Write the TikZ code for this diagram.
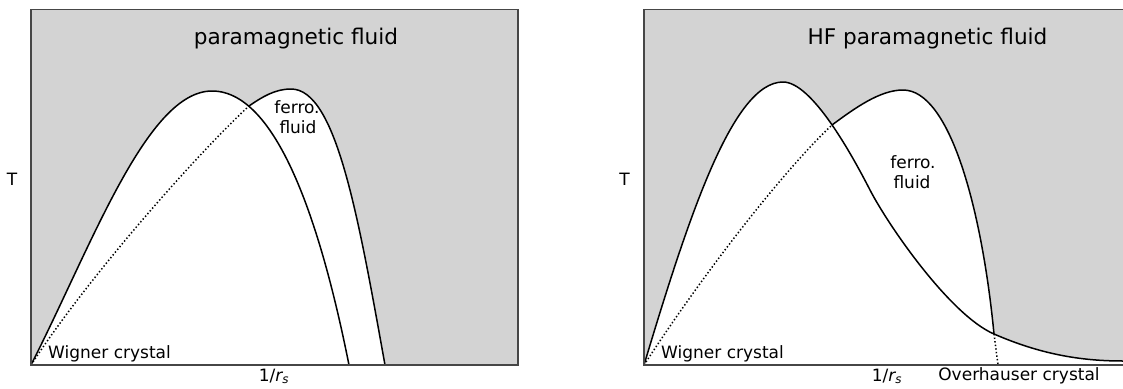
\documentclass[tikz,border=0pt]{standalone}
\usepackage{fontspec}
\setmainfont{DejaVu Sans}
\definecolor{panelgray}{RGB}{211,211,211}
\definecolor{framegray}{RGB}{70,70,70}
\tikzset{
  panelbg/.style={fill=panelgray},
  frameline/.style={draw=framegray,line width=1.2pt},
  curveline/.style={draw=black,line width=1.5pt,line join=round},
  dotline/.style={draw=black,line width=1.5pt,dash pattern=on 1.4pt off 2.2pt},
  titletext/.style={font=\fontsize{21.6}{26}\selectfont,inner sep=0pt},
  labeltext/.style={font=\fontsize{17}{20}\selectfont,inner sep=0pt},
}
\newcommand{\invrs}{1/{\itshape r}\textsubscript{\itshape s}}
\begin{document}
\begin{tikzpicture}[x=1pt,y=-1pt]
\useasboundingbox (0,0) rectangle (1123,388);
% ---------------- left panel ----------------
\coordinate (oL) at (31,365);
\coordinate (pkAL) at (212,91);
\coordinate (endAL) at (349,365);
\coordinate (xL) at (249,106);
\coordinate (pkBL) at (291,89);
\coordinate (endBL) at (385,365);
\fill[panelbg] (31,9.3) rectangle (518,365);
\fill[white] (oL) .. controls (92,245) and (147,91) .. (pkAL) .. controls (282,91) and (325,245) .. (endAL) -- cycle;
\fill[white] (oL) .. controls (89.5,275) and (199,152) .. (xL) .. controls (262,97) and (275,89) .. (pkBL) .. controls (336,89) and (358,215) .. (endBL) -- cycle;
\draw[curveline] (oL) .. controls (92,245) and (147,91) .. (pkAL) .. controls (282,91) and (325,245) .. (endAL);
\draw[dotline] (oL) .. controls (89.5,275) and (199,152) .. (xL);
\draw[curveline] (xL) .. controls (262,97) and (275,89) .. (pkBL) .. controls (336,89) and (358,215) .. (endBL);
\draw[frameline] (31,365) -- (31,9.3) -- (518,9.3) -- (518,365) -- cycle;
\node[titletext,anchor=base] (t1) at (296,44) {paramagnetic fluid};
\node[labeltext,anchor=base] (ferroL) at (297,113) {ferro.};
\node[labeltext,anchor=base] (fluidL) at (298,133) {fluid};
\node[labeltext,anchor=base west] (wigL) at (48,358) {Wigner crystal};
\node[labeltext,anchor=base] (xlabL) at (274,381) {\invrs};
\node[labeltext,anchor=base] (ylabL) at (12,185) {T};
% ---------------- right panel ----------------
\coordinate (oR) at (644,365);
\coordinate (pkAR) at (783,82);
\coordinate (infR) at (870,190);
\coordinate (meetR) at (994,334);
\coordinate (tailR) at (1123,361);
\coordinate (xR) at (832,125);
\coordinate (pkBR) at (903,90);
\coordinate (ohBot) at (998,365);
\fill[panelbg] (644,9.3) rectangle (1123,365);
\fill[white] (oR) .. controls (689,215) and (733,82) .. (pkAR) .. controls (812,82) and (852,155) .. (infR) .. controls (888,225) and (950,315) .. (meetR) .. controls (1040,354) and (1080,361) .. (tailR) -- (1123,365) -- cycle;
\fill[white] (oR) .. controls (709,265) and (788,166) .. (xR) .. controls (855,108) and (880,90) .. (pkBR) .. controls (950,90) and (982,210) .. (meetR) -- (ohBot) -- cycle;
\draw[curveline] (oR) .. controls (689,215) and (733,82) .. (pkAR) .. controls (812,82) and (852,155) .. (infR) .. controls (888,225) and (950,315) .. (meetR) .. controls (1040,354) and (1080,361) .. (tailR);
\draw[dotline] (oR) .. controls (709,265) and (788,166) .. (xR);
\draw[curveline] (xR) .. controls (855,108) and (880,90) .. (pkBR) .. controls (950,90) and (982,210) .. (meetR);
\draw[dotline] (meetR) -- (ohBot);
\draw[frameline] (1123,9.3) -- (644,9.3) -- (644,365) -- (1123,365);
\node[titletext,anchor=base] (t2) at (927.5,44) {HF paramagnetic fluid};
\node[labeltext,anchor=base] (ferroR) at (913,168) {ferro.};
\node[labeltext,anchor=base] (fluidR) at (912,188) {fluid};
\node[labeltext,anchor=base west] (wigR) at (661,358) {Wigner crystal};
\node[labeltext,anchor=base] (xlabR) at (887,381) {\invrs};
\node[labeltext,anchor=base] (ohL) at (1019,380) {Overhauser crystal};
\node[labeltext,anchor=base] (ylabR) at (624.6,185) {T};
\end{tikzpicture}
\end{document}
